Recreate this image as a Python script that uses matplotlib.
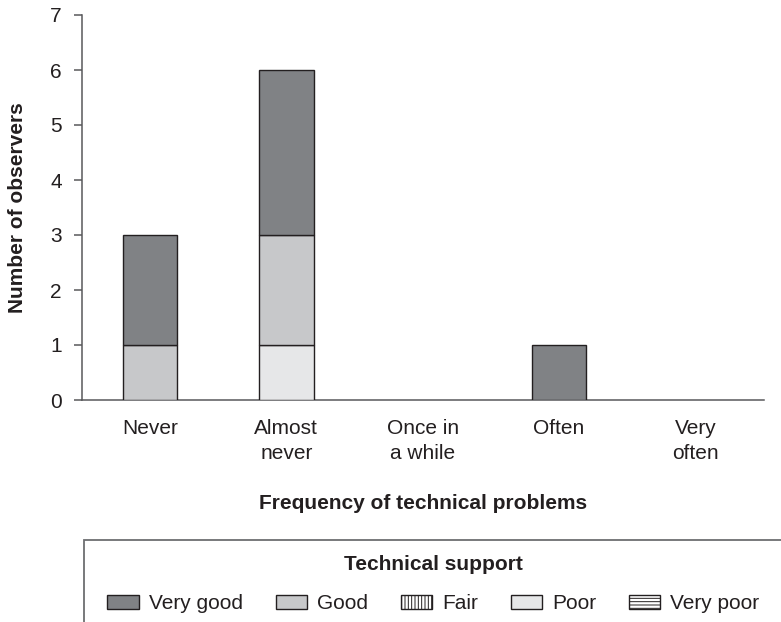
import matplotlib
matplotlib.use("Agg")
import matplotlib.pyplot as plt
from matplotlib.patches import Patch, Rectangle
import numpy as np

plt.rcParams['font.family'] = ['Liberation Sans', 'DejaVu Sans']
plt.rcParams['hatch.linewidth'] = 0.7

# ---- data ----
categories = ["Never", "Almost\nnever", "Once in\na while", "Often", "Very\noften"]
series_names = ["Very poor", "Poor", "Fair", "Good", "Very good"]  # stacking order (bottom -> top)
very_poor = [0, 0, 0, 0, 0]
poor = [0, 1, 0, 0, 0]
fair = [0, 0, 0, 0, 0]
good = [1, 2, 0, 0, 0]
very_good = [2, 3, 0, 1, 0]
legend_order = ["Very good", "Good", "Fair", "Poor", "Very poor"]
y_ticks = [0, 1, 2, 3, 4, 5, 6, 7]

# ---- styles ----
TXT = '#231f20'
EDGE = '#231f20'
AXC = '#58595b'
styles = {
    "Very good": dict(facecolor='#808285', hatch=None),
    "Good": dict(facecolor='#c7c8ca', hatch=None),
    "Fair": dict(facecolor='white', hatch='|||||'),
    "Poor": dict(facecolor='#e6e7e8', hatch=None),
    "Very poor": dict(facecolor='white', hatch='-----'),
}
series_vals = {"Very poor": very_poor, "Poor": poor, "Fair": fair,
               "Good": good, "Very good": very_good}

W, H = 781, 622
fig = plt.figure(figsize=(W / 100, H / 100), dpi=100)
ax = fig.add_axes([81.75 / W, (H - 400) / H, (763.5 - 81.75) / W, 385 / H])

x = np.arange(len(categories))
bottom = np.zeros(len(categories))
for name in series_names:
    vals = np.array(series_vals[name], dtype=float)
    mask = vals > 0
    if mask.any():
        ax.bar(x[mask], vals[mask], width=0.4, bottom=bottom[mask],
               facecolor=styles[name]['facecolor'], hatch=styles[name]['hatch'],
               edgecolor=EDGE, linewidth=1.0, zorder=3)
    bottom += vals

ax.set_xlim(-0.5, len(categories) - 0.5)
ax.set_ylim(0, 7)
ax.set_yticks(y_ticks)
ax.set_xticks(x)
ax.set_xticklabels(categories, fontsize=15, color=TXT, linespacing=1.4)
ax.tick_params(axis='x', length=0, pad=14)
ax.tick_params(axis='y', length=5.8, width=1.1, color=AXC, pad=8.5,
               labelsize=15, labelcolor=TXT, direction='out')

for s in ['top', 'right']:
    ax.spines[s].set_visible(False)
for s in ['left', 'bottom']:
    ax.spines[s].set_color(AXC)
    ax.spines[s].set_linewidth(1.1)

ax.set_xlabel("Frequency of technical problems", fontsize=15, fontweight='bold', color=TXT)
ax.xaxis.set_label_coords(0.5, (400 - 494) / 385)
ax.set_ylabel("Number of observers", fontsize=15, fontweight='bold', color=TXT)
ax.yaxis.set_label_coords((27.5 - 81.75) / 681.75, 0.5)

# legend
handles = [Patch(facecolor=styles[n]['facecolor'], hatch=styles[n]['hatch'],
                 edgecolor=EDGE, linewidth=1.0, label=n) for n in legend_order]
leg = fig.legend(handles=handles, loc='upper center',
                 bbox_to_anchor=(433.5 / W, (H - 536.7) / H),
                 ncol=5, frameon=False, fontsize=15,
                 title="Technical support",
                 title_fontproperties={'weight': 'bold', 'size': 15},
                 handlelength=1.5, handleheight=0.7, handletextpad=0.48,
                 columnspacing=1.58, labelspacing=0.95, borderpad=0.4)
for t in leg.get_texts():
    t.set_color(TXT)
leg.get_title().set_color(TXT)

fig.patches.append(Rectangle((84 / W, -0.1), 1.0, (H - 540) / H + 0.1,
                             transform=fig.transFigure, fill=False,
                             edgecolor='#6d6e71', linewidth=1.3))

fig.savefig("out.png", dpi=100)
